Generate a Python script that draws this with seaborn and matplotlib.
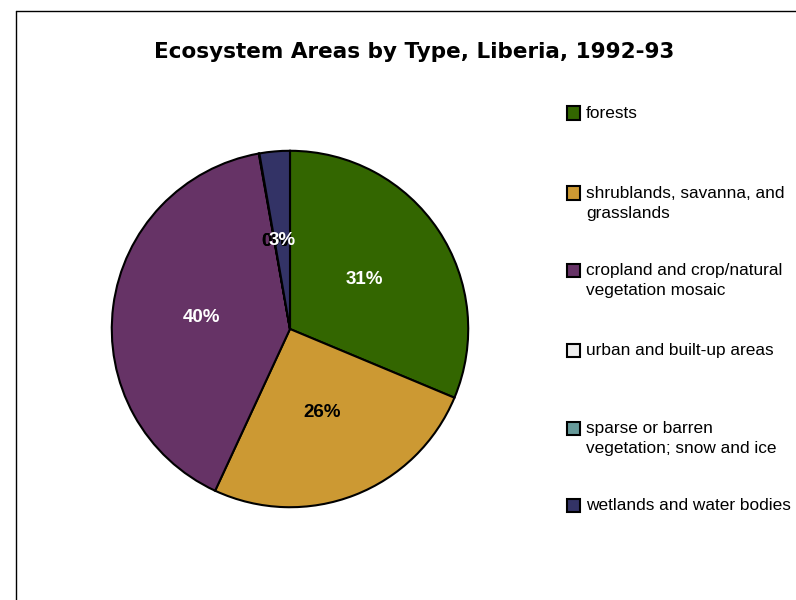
import matplotlib
matplotlib.use("Agg")
import matplotlib.pyplot as plt
from matplotlib.patches import Rectangle
from matplotlib.lines import Line2D
import seaborn as sns

# ecosystem shares (percent)
categories = ["forests", "shrublands, savanna, and\ngrasslands",
              "cropland and crop/natural\nvegetation mosaic",
              "urban and built-up areas",
              "sparse or barren\nvegetation; snow and ice",
              "wetlands and water bodies"]
shares = [31.3, 25.6, 40.3, 0.05, 0.0, 2.75]
colors = ["#336600", "#CC9933", "#663366", "#EEEEEE", "#669999", "#333366"]
label_colors = ["white", "black", "white", "black", "black", "white"]

sns.set_theme(style="white")
plt.rcParams['font.family'] = ['Liberation Sans', 'DejaVu Sans']
plt.rcParams['text.color'] = 'black'

W, H = 796, 600
fig = plt.figure(figsize=(W / 100, H / 100), dpi=100)

# chart frame (left and top edges visible)
fig.add_artist(Line2D([16 / W, 16 / W], [0, 1 - 11 / H], color="black", lw=1))
fig.add_artist(Line2D([16 / W, 1], [1 - 11 / H, 1 - 11 / H], color="black", lw=1))

# pie: center (290, 329), radius 180 px
cx, cy, r = 290, 329, 180
ax = fig.add_axes([(cx - r) / W, 1 - (cy + r) / H, 2 * r / W, 2 * r / H])
wedges, texts, autotexts = ax.pie(
    shares, colors=colors, startangle=90, counterclock=False,
    autopct="%.0f%%", pctdistance=0.5, radius=1,
    wedgeprops=dict(edgecolor="black", linewidth=1.5),
    textprops=dict(fontsize=13.5, fontweight="bold"))
for t, c in zip(autotexts, label_colors):
    t.set_color(c)
ax.set_xlim(-1.01, 1.01)
ax.set_ylim(-1.01, 1.01)
ax.set_aspect("equal")
ax.axis("off")

fig.text(414 / W, 1 - 52 / H, "Ecosystem Areas by Type, Liberia, 1992-93",
         ha="center", va="center", fontsize=15.5, fontweight="bold",
         family="DejaVu Sans", color="black")

# legend drawn by hand: square aligned to the first text line
legend_y = [113, 193, 270, 350, 428, 505]
for lab, col, y in zip(categories, colors, legend_y):
    fig.add_artist(Rectangle((567 / W, 1 - (y + 6.5) / H), 13 / W, 13 / H,
                             facecolor=col, edgecolor="black", lw=1.5))
    fig.text(586 / W, 1 - (y - 7) / H, lab, ha="left", va="top",
             fontsize=12.4, linespacing=1.45, color="black")

fig.savefig("out.png", dpi=100)
